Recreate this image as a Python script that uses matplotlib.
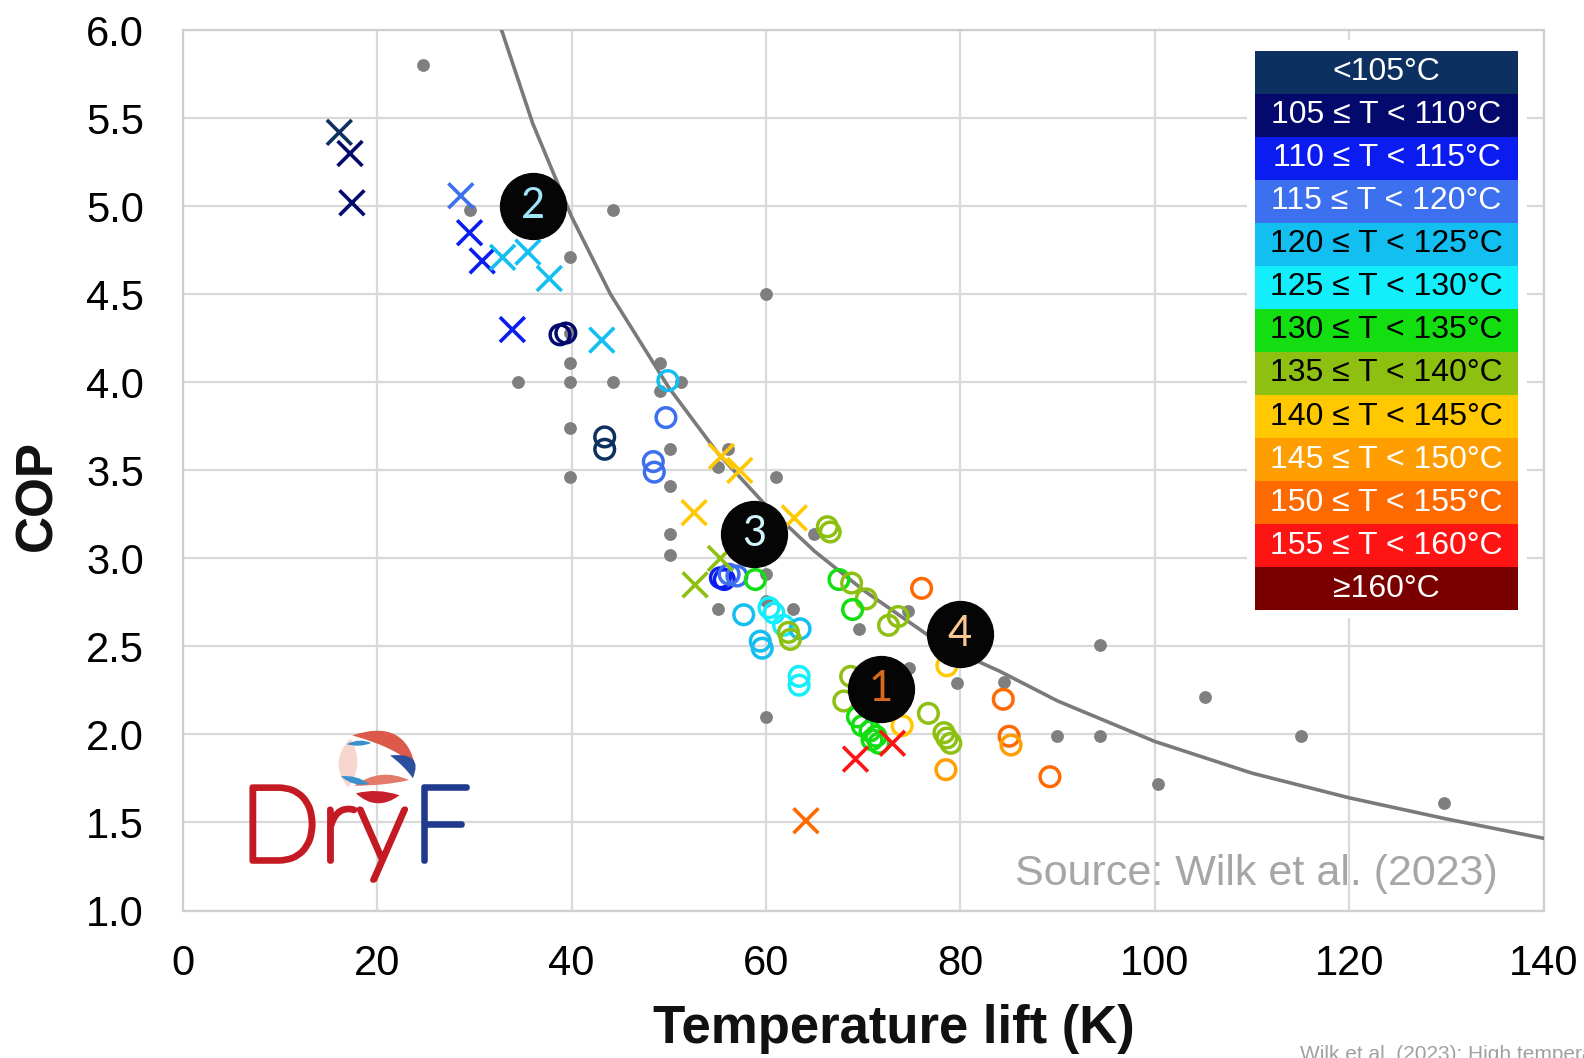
"""COP vs temperature lift of high temperature heat pumps (after Wilk et al. 2023)."""

import matplotlib
matplotlib.use("Agg")
import matplotlib.pyplot as plt
import matplotlib.patheffects as pe
from matplotlib.patches import Rectangle, PathPatch
from matplotlib.path import Path

plt.rcParams["font.family"] = ["Liberation Sans", "DejaVu Sans"]

# Temperature bands (supply temperature) used to colour the markers
BAND_LABELS = [
    "<105°C", "105 ≤ T < 110°C", "110 ≤ T < 115°C", "115 ≤ T < 120°C",
    "120 ≤ T < 125°C", "125 ≤ T < 130°C", "130 ≤ T < 135°C", "135 ≤ T < 140°C",
    "140 ≤ T < 145°C", "145 ≤ T < 150°C", "150 ≤ T < 155°C", "155 ≤ T < 160°C",
    "≥160°C",
]
BAND_COLORS = [
    "#0c3060", "#04096e", "#0a1cf0", "#3c70ee", "#12bff0", "#12eefc", "#12de12",
    "#8ec012", "#ffc800", "#ff9e00", "#ff6a00", "#ff1414", "#7a0000",
]
BAND_TEXT = [
    "white", "white", "white", "white", "black", "black", "black",
    "black", "black", "white", "white", "white", "white",
]

# Crosses (one group of machines)
cross_lift = [16.1, 17.2, 17.4, 28.6, 29.5, 30.8, 32.9, 35.5, 37.7, 33.9, 43.1,
              55.4, 57.3, 52.6, 62.9, 55.3, 52.7, 69.2, 73.0, 64.1]
cross_cop = [5.42, 5.30, 5.02, 5.06, 4.85, 4.69, 4.71, 4.74, 4.59, 4.30, 4.24,
             3.58, 3.50, 3.26, 3.23, 3.00, 2.85, 1.86, 1.95, 1.51]
cross_band = [0, 1, 1, 3, 2, 2, 4, 4, 4, 2, 4,
              8, 8, 8, 8, 7, 7, 11, 11, 10]

# Open circles (other group of machines)
circle_lift = [38.8, 39.4, 49.9, 49.7, 43.4, 43.4, 48.4, 48.5,
               55.3, 55.7, 56.2, 57.0, 58.9, 57.7, 60.3, 60.8, 59.4, 59.6,
               61.8, 63.5, 62.3, 62.5, 63.4, 63.4, 66.3, 66.6, 67.5, 68.8,
               70.3, 68.9, 72.6, 73.6, 76.0, 78.6, 68.7, 68.0, 69.4, 69.9,
               70.7, 71.3, 71.6, 70.9, 74.0, 76.7, 78.3, 78.6, 79.0, 78.5,
               84.4, 85.0, 85.2, 89.2]
circle_cop = [4.27, 4.28, 4.01, 3.80, 3.69, 3.62, 3.55, 3.49,
              2.89, 2.88, 2.91, 2.90, 2.88, 2.68, 2.72, 2.69, 2.53, 2.49,
              2.62, 2.60, 2.58, 2.54, 2.33, 2.28, 3.18, 3.15, 2.88, 2.86,
              2.77, 2.71, 2.62, 2.67, 2.83, 2.39, 2.33, 2.19, 2.10, 2.05,
              2.02, 1.99, 1.95, 1.97, 2.05, 2.12, 2.01, 1.98, 1.95, 1.80,
              2.20, 1.99, 1.94, 1.76]
circle_band = [1, 1, 4, 3, 0, 0, 3, 3,
               2, 2, 3, 3, 6, 4, 5, 5, 4, 4,
               5, 4, 7, 7, 5, 5, 7, 7, 6, 7,
               7, 6, 7, 7, 10, 8, 7, 7, 6, 6,
               6, 6, 6, 6, 8, 7, 7, 7, 7, 9,
               10, 10, 9, 10]

# Grey reference points (literature data)
ref_lift = [24.7, 29.5, 44.3, 39.8, 60.0, 39.8, 39.8, 34.5, 39.8, 44.3,
            49.1, 51.2, 49.1, 39.8, 50.1, 56.1, 55.1, 39.8, 50.1, 61.0,
            50.1, 50.1, 64.9, 60.0, 60.0, 55.1, 62.8, 60.0, 69.6, 74.6,
            74.7, 79.6, 84.5, 94.3, 89.9, 94.3, 105.2, 115.0, 100.3, 129.7]
ref_cop = [5.80, 4.98, 4.98, 4.71, 4.50, 4.28, 4.11, 4.00, 4.00, 4.00,
           4.11, 4.00, 3.95, 3.74, 3.62, 3.62, 3.52, 3.46, 3.41, 3.46,
           3.14, 3.02, 3.14, 2.91, 2.76, 2.71, 2.71, 2.10, 2.60, 2.70,
           2.38, 2.29, 2.30, 2.51, 1.99, 1.99, 2.21, 1.99, 1.72, 1.61]

# Trend line
trend_lift = [32.8, 36, 40, 44, 50, 55, 60, 65, 70, 76.5, 80, 84, 90, 100,
              110, 120, 130, 140]
trend_cop = [6.00, 5.47, 4.94, 4.50, 3.97, 3.60, 3.30, 3.04, 2.82, 2.57, 2.46,
             2.36, 2.19, 1.96, 1.78, 1.64, 1.52, 1.41]

# Numbered callouts
callout_labels = ["2", "3", "4", "1"]
callout_lift = [36.0, 58.8, 79.9, 71.8]
callout_cop = [5.00, 3.14, 2.57, 2.26]
callout_colors = ["#9fe6f7", "#d2f4fb", "#f8c890", "#d86a1e"]

x_ticks = [0, 20, 40, 60, 80, 100, 120, 140]
y_ticks = [1.0, 1.5, 2.0, 2.5, 3.0, 3.5, 4.0, 4.5, 5.0, 5.5, 6.0]

GRID_COLOR = "#d9d9d9"
REF_COLOR = "#7f7f7f"
LOGO_RED = "#c41a24"
LOGO_BLUE = "#1f3a8c"


fig = plt.figure(figsize=(15.84, 10.58), dpi=100)
ax = fig.add_axes([0.1154, 0.1394, 0.8592, 0.832])

ax.set_xlim(0, 140)
ax.set_ylim(1.0, 6.0)
ax.set_xticks(x_ticks)
ax.set_yticks(y_ticks)
ax.set_xticklabels([str(t) for t in x_ticks])
ax.set_yticklabels([f"{t:.1f}" for t in y_ticks])
ax.tick_params(axis="both", length=0, labelsize=30)
ax.tick_params(axis="y", pad=28)
ax.tick_params(axis="x", pad=24)
ax.grid(True, color=GRID_COLOR, linewidth=1.6)
ax.set_axisbelow(True)
for spine in ax.spines.values():
    spine.set_color("#cfcfcf")
    spine.set_linewidth(1.6)

# Data
ax.scatter(ref_lift, ref_cop, s=85, color=REF_COLOR, linewidths=0, zorder=2)
ax.plot(trend_lift, trend_cop, color="#7a7a7a", linewidth=2.6, zorder=3)
ax.scatter(circle_lift, circle_cop, s=200, marker="o", facecolors="none",
           edgecolors=[BAND_COLORS[b] for b in circle_band], linewidths=2.5, zorder=4)
ax.scatter(cross_lift, cross_cop, s=320, marker="x",
           c=[BAND_COLORS[b] for b in cross_band], linewidths=2.6, zorder=4)

# Callouts
ax.scatter(callout_lift, callout_cop, s=2250, color="#050505", zorder=6)
for lab, x, y, col in zip(callout_labels, callout_lift, callout_cop, callout_colors):
    ax.text(x, y, lab, ha="center", va="center", fontsize=30, color=col,
            family=["Lato", "DejaVu Sans"], zorder=7)

# Temperature band table
ax.add_patch(Rectangle((0.782, 0.332), 0.206, 0.657, transform=ax.transAxes,
                       facecolor="white", edgecolor="none", zorder=8))
row_h = (0.977 - 0.341) / len(BAND_LABELS)
for i, (lab, col, tcol) in enumerate(zip(BAND_LABELS, BAND_COLORS, BAND_TEXT)):
    y0 = 0.977 - (i + 1) * row_h
    ax.add_patch(Rectangle((0.788, y0), 0.193, row_h, transform=ax.transAxes,
                           facecolor=col, edgecolor="none", zorder=9))
    ax.text(0.8845, y0 + row_h / 2, lab, transform=ax.transAxes, ha="center",
            va="center", fontsize=23, color=tcol, zorder=10)

ax.text(0.966, 0.041, "Source: Wilk et al. (2023)", transform=ax.transAxes,
        ha="right", va="center", fontsize=31, color="#a6a6a6", zorder=5)

# Axis titles
fig.text(0.024, 0.532, "COP", rotation=90, ha="center", va="center",
         fontsize=37, fontweight="bold", color="#111111")
fig.text(0.5645, 0.0275, "Temperature lift (K)", ha="center", va="center",
         fontsize=38, fontweight="bold", color="#111111")
fig.text(0.8208, 0.0125, "Wilk et al. (2023): High temperature heat pumps - state of the art",
         ha="left", va="top", fontsize=15, color="#a0a0a0")

# DryF logo: thin letters, thickened a little with a stroke of the same colour
fig.text(0.1515, 0.1862, "Dry", ha="left", va="baseline", fontsize=76,
         color=LOGO_RED, family=["Lato", "Liberation Sans"], fontweight="light",
         path_effects=[pe.withStroke(linewidth=4, foreground=LOGO_RED)])
fig.text(0.2600, 0.1862, "F", ha="left", va="baseline", fontsize=76,
         color=LOGO_BLUE, family=["Lato", "Liberation Sans"], fontweight="light",
         path_effects=[pe.withStroke(linewidth=4, foreground=LOGO_BLUE)])

logo = fig.add_axes([(373 - 45) / 1568, 1 - (757 + 45) / 1047, 90 / 1568, 90 / 1047])
logo.set_xlim(-1.2, 1.2)
logo.set_ylim(-1.2, 1.2)
logo.axis("off")


def lens(p0, p1, c_top, c_bot, color):
    verts = [p0, c_top, p1, c_bot, p0, p0]
    codes = [Path.MOVETO, Path.CURVE3, Path.CURVE3, Path.CURVE3, Path.CURVE3,
             Path.CLOSEPOLY]
    logo.add_patch(PathPatch(Path(verts, codes), facecolor=color, edgecolor="none"))


lens((-0.7, 0.7), (-0.75, -0.6), (-1.3, 0.05), (-0.3, 0.05), "#f6d6ce")
lens((-0.65, 0.78), (1.02, -0.05), (0.75, 1.25), (0.55, 0.45), "#dc5a4a")
lens((0.35, 0.25), (0.95, -0.35), (1.25, 0.35), (0.75, -0.05), "#2c4f9e")
lens((-0.8, 0.55), (-0.15, 0.58), (-0.45, 0.72), (-0.45, 0.45), "#3b8fcb")
lens((-0.6, -0.55), (0.85, -0.4), (0.1, -0.05), (0.2, -0.55), "#e37a6a")
lens((-0.95, -0.3), (-0.2, -0.5), (-0.55, -0.25), (-0.6, -0.6), "#3b8fcb")
lens((-0.55, -0.75), (0.6, -0.8), (0.0, -0.6), (0.0, -1.25), "#c8202a")

fig.savefig("out.png", dpi=100, facecolor="white")
